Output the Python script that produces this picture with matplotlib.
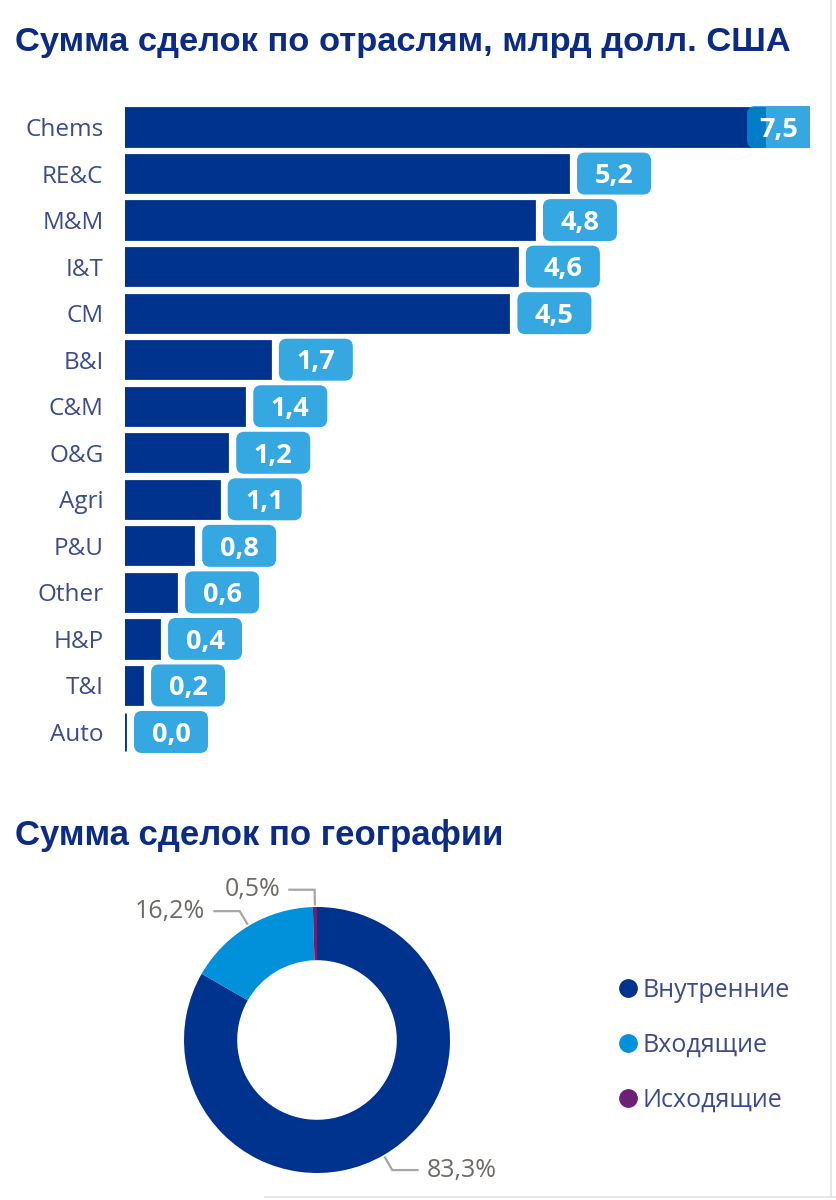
import numpy as np
import matplotlib
matplotlib.use('Agg')
import matplotlib.pyplot as plt
from matplotlib.patches import FancyBboxPatch
from matplotlib.lines import Line2D

plt.rcParams['font.family'] = ['Open Sans', 'DejaVu Sans']

# данные: сумма сделок по отраслям, млрд долл. США
industries = ['Chems', 'RE&C', 'M&M', 'I&T', 'CM', 'B&I', 'C&M', 'O&G',
              'Agri', 'P&U', 'Other', 'H&P', 'T&I', 'Auto']
deal_values = [7.5, 5.2, 4.8, 4.6, 4.5, 1.7, 1.4, 1.2, 1.1, 0.8, 0.6, 0.4, 0.2, 0.0]

# данные: сумма сделок по географии, %
geo_labels = ['Внутренние', 'Входящие', 'Исходящие']
geo_shares = [83.3, 16.2, 0.5]

navy = '#00338D'
blue = '#0091DA'
purple = '#6D2077'
label_col = '#3B4B8C'
title_col = '#0C2C84'

W, H = 836, 1200
fig = plt.figure(figsize=(W / 100, H / 100), dpi=100)


def px_box(x0, y0, x1, y1):
    # пиксели (от левого верхнего угла) -> доли фигуры
    return [x0 / W, 1 - y1 / H, (x1 - x0) / W, (y1 - y0) / H]


# --- верхний график: горизонтальные столбики ---
ax = fig.add_axes(px_box(125, 103.75, 810, 755.25))
y = np.arange(len(industries))
ax.barh(y, deal_values, height=0.8, color=navy, edgecolor=navy, linewidth=2)
ax.set_xlim(0, 685 / 85.2)
ax.set_ylim(len(industries) - 0.5, -0.5)
ax.set_yticks(y, industries)
ax.tick_params(axis='y', length=0, pad=15.5, labelsize=17.5, labelcolor=label_col)
ax.set_xticks([])
for s in ax.spines.values():
    s.set_visible(False)

# подписи значений в скруглённых плашках
xmax = ax.get_xlim()[1]
p0 = ax.transData.transform((0, 0))
p1 = ax.transData.transform((1, 1))
sx = p1[0] - p0[0]
sy = abs(p1[1] - p0[1])
bw = 74 / sx
bh = 42 / sy
gap = 9 / sx
rr = 8 / sx
for yi, v in zip(y, deal_values):
    x0 = min(v + gap, xmax - 63 / sx)
    box = FancyBboxPatch((x0, yi - bh / 2), bw, bh,
                         boxstyle=f'round,pad=0,rounding_size={rr}',
                         mutation_aspect=sx / sy,
                         facecolor=blue, edgecolor='none', alpha=0.79, zorder=3)
    ax.add_patch(box)
    xc = (x0 + min(x0 + bw, xmax)) / 2
    ax.text(xc, yi + 0.06, f'{v:.1f}'.replace('.', ','), ha='center', va='center',
            fontsize=19.5, fontweight='bold', color='white', zorder=4)

# --- нижний график: кольцевая диаграмма ---
ax2 = fig.add_axes(px_box(167, 890, 467, 1190))
wedges, _ = ax2.pie(geo_shares, colors=[navy, blue, purple], startangle=90,
                    counterclock=False, radius=1,
                    wedgeprops=dict(width=0.4, edgecolor='none'))
lim = 150 / 133
ax2.set_xlim(-lim, lim)
ax2.set_ylim(-lim, lim)

for w, share in zip(wedges, geo_shares):
    ang = np.deg2rad((w.theta1 + w.theta2) / 2)
    ca, sa = np.cos(ang), np.sin(ang)
    side = 1 if ca >= 0 else -1
    xe, ye = 1.13 * ca, 1.13 * sa
    xh = xe + side * 0.19
    ax2.plot([1.02 * ca, xe, xh], [1.02 * sa, ye, ye], color='#A6A6A6', lw=1.6,
             clip_on=False, solid_joinstyle='miter')
    ax2.text(xh + side * 0.07, ye, f'{share:.1f}%'.replace('.', ','),
             ha='left' if side > 0 else 'right', va='center',
             fontsize=18, color='#6E6A66')

handles = [Line2D([], [], ls='none', marker='o', ms=12.5, mfc=c, mec=c)
           for c in [navy, blue, purple]]
fig.legend(handles, geo_labels, loc='upper left', bbox_to_anchor=(619 / W, 1 - 978 / H),
           frameon=False, fontsize=18, labelcolor=label_col, handlelength=0.75,
           handletextpad=0.2, labelspacing=1.2, borderpad=0, borderaxespad=0)

# заголовки
fig.text(15 / W, 1 - 43 / H, 'Сумма сделок по отраслям, млрд долл. США',
         fontsize=24.8, fontweight='bold', color=title_col,
         family=['Liberation Sans', 'DejaVu Sans'], va='center')
fig.text(15 / W, 1 - 836 / H, 'Сумма сделок по географии',
         fontsize=25, fontweight='bold', color=title_col,
         family=['Liberation Sans', 'DejaVu Sans'], va='center')

# тонкие рамки
fig.add_artist(Line2D([831 / W, 831 / W], [3 / H, 1], color='#E3E3E3', lw=1.2))
fig.add_artist(Line2D([265 / W, 1], [3 / H, 3 / H], color='#E3E3E3', lw=1.2))

fig.savefig('out.png', dpi=100)
